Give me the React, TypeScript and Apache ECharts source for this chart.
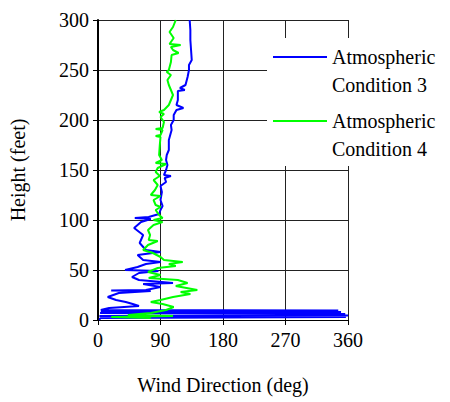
import React, { useEffect, useRef } from "react";
import * as echarts from "echarts";

// Atmospheric Condition 3 (blue): height (ft) and wind direction (deg)
const blueHeight = [300, 290, 280, 270, 260, 255, 250, 243, 235, 232, 230, 229, 220, 215, 212, 210, 205, 200, 195, 190, 180, 170, 165, 160, 155, 150, 145, 144, 142, 138, 134, 128, 120, 114, 110, 106, 103, 102, 101, 98, 92, 85, 77, 70, 68, 65, 60, 58, 56, 53, 50, 49, 47, 43, 40, 37, 36, 33, 30, 29.5, 29, 27, 23, 20, 18, 16, 14, 12, 10, 9.5, 9, 8, 7, 6, 5, 4.5, 4, 3, 2, 1, 0];
const blueDir = [132, 133, 133, 134, 135, 131, 131, 129, 126, 118, 125, 115, 115, 113, 123, 113, 109, 109, 105, 106, 102, 102, 99, 98, 100, 98, 95, 105, 96, 98, 90, 92, 90, 93, 90, 88, 73, 53, 76, 62, 52, 65, 60, 69, 90, 57, 65, 90, 69, 57, 39, 87, 59, 49, 59, 108, 65, 90, 69, 19, 76, 30, 14, 26, 40, 50, 59, 16, 4, 346, 4, 350, 3, 356, 334, 360, 2, 357, 4, 2, 3];

// Atmospheric Condition 4 (green)
const greenHeight = [300, 293, 288, 282, 276, 275, 273, 270, 267, 265, 258, 250, 248, 245, 240, 235, 230, 225, 220, 215, 210, 208, 206, 203, 198, 192, 191, 190, 185, 184, 183, 175, 165, 160, 157, 156, 152, 148, 144, 140, 135, 130, 125, 124, 120, 115, 113, 110, 105, 102, 100, 98, 95, 90, 85, 80, 79, 75, 70, 67, 63, 60, 58, 56, 54, 52, 48, 45, 42, 40, 37, 34, 30, 28, 26, 23, 20, 18, 16, 13, 10, 7, 5, 4, 3, 2];
const greenDir = [112, 108, 103, 109, 103, 119, 105, 108, 116, 106, 105, 102, 99, 105, 100, 102, 105, 108, 105, 102, 95, 88, 95, 90, 95, 93, 83, 93, 90, 83, 90, 89, 88, 92, 83, 98, 86, 83, 89, 80, 86, 82, 76, 90, 80, 83, 90, 83, 88, 93, 80, 93, 80, 72, 75, 73, 86, 72, 65, 79, 90, 95, 122, 102, 112, 86, 72, 90, 73, 115, 129, 112, 143, 119, 133, 108, 90, 76, 93, 109, 98, 76, 43, 108, 19, 76];

const xTicks = [0, 90, 180, 270, 360];
const yTicks = [0, 50, 100, 150, 200, 250, 300];

const seriesNames = ["Atmospheric\nCondition 3", "Atmospheric\nCondition 4"];
const seriesColors = ["#0000FF", "#00FF00"];

const FONT = "Liberation Serif";

export default function App() {
  const ref = useRef<HTMLDivElement>(null);
  useEffect(() => {
    document.body.style.margin = "0";
    if (!ref.current) return;
    const chart = echarts.init(ref.current, null, { renderer: "svg" });
    const blueData = blueHeight.map((h, i) => [blueDir[i], h]);
    const greenData = greenHeight.map((h, i) => [greenDir[i], h]);
    const axisText = { color: "#000", fontFamily: FONT, fontSize: 20 };
    chart.setOption({
      animation: false,
      backgroundColor: "#fff",
      grid: { left: 97, right: 102, top: 20, bottom: 82, containLabel: false },
      xAxis: {
        type: "value",
        min: xTicks[0],
        max: xTicks[xTicks.length - 1],
        interval: 90,
        name: "Wind Direction (deg)",
        nameLocation: "middle",
        nameGap: 55,
        nameTextStyle: { ...axisText },
        axisLine: { show: true, lineStyle: { color: "#000", width: 1 } },
        axisTick: { show: true, length: 5, lineStyle: { color: "#000" } },
        axisLabel: { ...axisText, margin: 10 },
        splitLine: { show: true, lineStyle: { color: "#222", width: 1 } },
      },
      yAxis: {
        type: "value",
        min: yTicks[0],
        max: yTicks[yTicks.length - 1],
        interval: 50,
        name: "Height (feet)",
        nameLocation: "middle",
        nameGap: 70,
        nameTextStyle: { ...axisText },
        axisLine: { show: true, lineStyle: { color: "#000", width: 2 } },
        axisTick: { show: true, length: 5, lineStyle: { color: "#000" } },
        axisLabel: { ...axisText, margin: 9 },
        splitLine: { show: true, lineStyle: { color: "#222", width: 1 } },
      },
      series: [
        {
          name: seriesNames[0],
          type: "line",
          data: blueData,
          showSymbol: false,
          symbol: "none",
          lineStyle: { color: seriesColors[0], width: 2 },
          itemStyle: { color: seriesColors[0] },
          z: 3,
        },
        {
          name: seriesNames[1],
          type: "line",
          data: greenData,
          showSymbol: false,
          symbol: "none",
          lineStyle: { color: seriesColors[1], width: 2 },
          itemStyle: { color: seriesColors[1] },
          z: 4,
        },
      ],
      graphic: [
        {
          type: "rect",
          z: 100,
          shape: { x: 267, y: 38, width: 183, height: 128 },
          style: { fill: "#fff" },
        },
        {
          type: "line",
          z: 101,
          shape: { x1: 273, y1: 57, x2: 327, y2: 57 },
          style: { stroke: seriesColors[0], lineWidth: 2 },
        },
        {
          type: "text",
          z: 101,
          x: 332,
          y: 43,
          style: {
            text: seriesNames[0],
            fontFamily: FONT,
            fontSize: 20,
            lineHeight: 28,
            fill: "#000",
            verticalAlign: "top",
          },
        },
        {
          type: "line",
          z: 101,
          shape: { x1: 273, y1: 121, x2: 327, y2: 121 },
          style: { stroke: seriesColors[1], lineWidth: 2 },
        },
        {
          type: "text",
          z: 101,
          x: 332,
          y: 107,
          style: {
            text: seriesNames[1],
            fontFamily: FONT,
            fontSize: 20,
            lineHeight: 28,
            fill: "#000",
            verticalAlign: "top",
          },
        },
      ],
    });
    return () => chart.dispose();
  }, []);
  return <div ref={ref} style={{ width: 450, height: 402 }} />;
}
